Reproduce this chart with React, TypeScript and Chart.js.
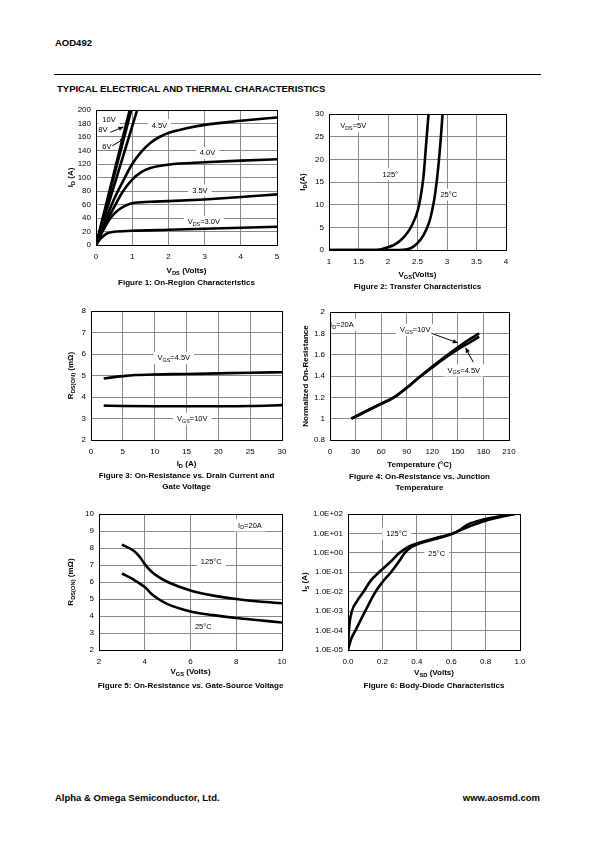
import React, { useEffect, useRef } from 'react';
import { Chart, registerables } from 'chart.js';
Chart.register(...registerables);

const FONT = '"Liberation Sans", Arial, Helvetica, sans-serif';
const GRID = '#888888';

// ---------- Figure 1: On-Region Characteristics ----------
const f1X30 = [0, 0.1, 0.2, 0.3, 0.5, 1, 2, 3, 4, 5];
const f1I30 = [0, 8, 13, 17, 19.5, 21, 22.5, 24, 25.5, 27];
const f1X35 = [0, 0.2, 0.4, 0.6, 0.8, 1, 1.5, 2, 3, 4, 5];
const f1I35 = [0, 22, 40, 51, 58, 62, 64, 65, 67.5, 71, 75];
const f1X40 = [0, 0.25, 0.5, 0.75, 1, 1.25, 1.5, 2, 3, 4, 5];
const f1I40 = [0, 30, 56, 80, 97, 108, 114, 119, 122.5, 125, 127];
const f1X45 = [0, 0.5, 0.75, 1, 1.25, 1.5, 1.75, 2, 2.5, 3, 4, 5];
const f1I45 = [0, 68, 95, 120, 138, 151, 160, 166, 173, 178, 184, 189];
const f1XLin = [0, 1.2];
const f1I6 = [0, 211];
const f1I8 = [0, 246];
const f1I10 = [0, 258];

// ---------- Figure 2: Transfer Characteristics ----------
const f2X125 = [1, 1.8, 1.9, 2.0, 2.1, 2.2, 2.3, 2.4, 2.5, 2.55, 2.6, 2.65, 2.7];
const f2I125 = [0, 0, 0.2, 0.6, 1.1, 2, 3.3, 5.3, 8.5, 11.5, 16, 24, 32];
const f2X25 = [1, 2.2, 2.3, 2.4, 2.5, 2.6, 2.7, 2.75, 2.8, 2.85, 2.9, 2.93];
const f2I25 = [0, 0, 0.1, 0.5, 1.5, 3.2, 6.2, 8.8, 12.5, 18, 25.5, 31];

// ---------- Figure 3: On-Resistance vs Drain Current ----------
const f3X45 = [2, 3, 5, 7, 10, 15, 20, 25, 30];
const f3R45 = [4.86, 4.9, 4.97, 5.02, 5.05, 5.07, 5.1, 5.13, 5.15];
const f3X10 = [2, 5, 10, 15, 20, 25, 30];
const f3R10 = [3.6, 3.58, 3.57, 3.57, 3.57, 3.58, 3.62];

// ---------- Figure 4: On-Resistance vs Junction Temperature ----------
const f4T = [25, 40, 60, 75, 90, 105, 120, 135, 150, 165, 175];
const f4N10 = [1.0, 1.06, 1.14, 1.2, 1.29, 1.39, 1.49, 1.58, 1.67, 1.75, 1.8];
const f4N45 = [1.0, 1.06, 1.14, 1.2, 1.29, 1.39, 1.48, 1.57, 1.65, 1.72, 1.77];

// ---------- Figure 5: On-Resistance vs Gate-Source Voltage ----------
const f5X125 = [3, 3.5, 3.8, 4, 4.3, 4.6, 5, 6, 7, 8, 9, 10];
const f5R125 = [8.2, 7.85, 7.45, 7.05, 6.6, 6.3, 6.0, 5.5, 5.2, 5.0, 4.85, 4.75];
const f5X25 = [3, 3.5, 4, 4.3, 4.6, 5, 6, 7, 8, 9, 10];
const f5R25 = [6.5, 6.15, 5.7, 5.3, 5.0, 4.7, 4.27, 4.05, 3.88, 3.75, 3.62];

// ---------- Figure 6: Body-Diode Characteristics ----------
const f6X125 = [0, 0.005, 0.023, 0.05, 0.09, 0.13, 0.18, 0.24, 0.3, 0.35, 0.4, 0.5, 0.6, 0.7, 0.8, 0.9, 0.97];
const f6I125 = [1e-5, 1e-4, 1e-3, 3e-3, 1e-2, 3.5e-2, 1e-1, 3e-1, 1.0, 2.0, 3.0, 5.5, 9.5, 22, 45, 75, 100];
const f6X25 = [0, 0.02, 0.043, 0.1, 0.16, 0.21, 0.25, 0.3, 0.33, 0.37, 0.4, 0.5, 0.6, 0.65, 0.7, 0.8, 0.9, 0.97];
const f6I25 = [1e-5, 4e-5, 1e-4, 1e-3, 1e-2, 4e-2, 1e-1, 4e-1, 1.0, 2.0, 2.7, 5, 9, 15, 30, 55, 82, 100];
const f6YTickValues = [1e-5, 1e-4, 1e-3, 1e-2, 1e-1, 1e0, 1e1, 1e2];
const f6YTickLabels = ['1.0E-05', '1.0E-04', '1.0E-03', '1.0E-02', '1.0E-01', '1.0E+00', '1.0E+01', '1.0E+02'];

interface Lbl { x: number; y: number; text: string; bg?: boolean }
interface Arrow { x1: number; y1: number; x2: number; y2: number; head?: boolean }
interface Series { x: number[]; y: number[] }
interface Spec {
  plot: [number, number, number, number];
  xMin: number; xMax: number; xStep: number; xFmt?: (v: number) => string;
  yMin: number; yMax: number; yStep?: number; yLog?: boolean; yFmt?: (v: number) => string;
  yTickValues?: number[]; yTickLabels?: string[];
  series: Series[];
  labels: Lbl[];
  arrows: Arrow[];
  xTitle: string; xTitleY: number;
  yTitle: string; yTitleX: number;
  caption: string[]; captionY: number[];
  lw?: number;
}

function parseRich(s: string) {
  const out: { t: string; sub: boolean }[] = [];
  const re = /_\{([^}]*)\}/g;
  let last = 0;
  let m: RegExpExecArray | null;
  while ((m = re.exec(s))) {
    if (m.index > last) out.push({ t: s.slice(last, m.index), sub: false });
    out.push({ t: m[1], sub: true });
    last = re.lastIndex;
  }
  if (last < s.length) out.push({ t: s.slice(last), sub: false });
  return out;
}

function drawRich(ctx: CanvasRenderingContext2D, text: string, x: number, y: number, size: number,
  bold: boolean, rotate: boolean, bg: boolean) {
  const parts = parseRich(text);
  const w = bold ? 'bold ' : '';
  const subSize = size * 0.72;
  let total = 0;
  const widths = parts.map(p => {
    ctx.font = `${w}${p.sub ? subSize : size}px ${FONT}`;
    const m = ctx.measureText(p.t).width;
    total += m;
    return m;
  });
  ctx.save();
  ctx.translate(x, y);
  if (rotate) ctx.rotate(-Math.PI / 2);
  let sx = -total / 2;
  if (bg) {
    ctx.fillStyle = '#fff';
    ctx.fillRect(sx - 4, -size * 0.75, total + 8, size * 1.6);
  }
  ctx.fillStyle = '#000';
  ctx.textBaseline = 'alphabetic';
  ctx.textAlign = 'left';
  const base = size * 0.36;
  parts.forEach((p, i) => {
    ctx.font = `${w}${p.sub ? subSize : size}px ${FONT}`;
    ctx.fillText(p.t, sx, p.sub ? base + size * 0.22 : base);
    sx += widths[i];
  });
  ctx.restore();
}

const PL = 60, PT = 15, PR = 45, PB = 62;

function ChartBox({ spec }: { spec: Spec }) {
  const ref = useRef<HTMLCanvasElement>(null);
  const [l, t, r, b] = spec.plot;
  const cl = l - PL, ct = t - PT;
  const W = r - l + PL + PR, H = b - t + PT + PB;

  useEffect(() => {
    const overlay = {
      id: 'overlay',
      beforeDatasetsDraw(chart: any) {
        const ctx = chart.ctx as CanvasRenderingContext2D;
        const xs = chart.scales.x, ys = chart.scales.y;
        for (const lb of spec.labels) {
          drawRich(ctx, lb.text, xs.getPixelForValue(lb.x), ys.getPixelForValue(lb.y), 7.5, false, false, lb.bg !== false);
        }
      },
      afterDatasetsDraw(chart: any) {
        const ctx = chart.ctx as CanvasRenderingContext2D;
        const xs = chart.scales.x, ys = chart.scales.y;
        const ca = chart.chartArea;
        ctx.save();
        ctx.strokeStyle = '#000';
        ctx.lineWidth = 1;
        ctx.strokeRect(Math.round(ca.left) + 0.5, Math.round(ca.top) + 0.5,
          Math.round(ca.right - ca.left), Math.round(ca.bottom - ca.top));
        for (const a of spec.arrows) {
          const x1 = xs.getPixelForValue(a.x1), y1 = ys.getPixelForValue(a.y1);
          const x2 = xs.getPixelForValue(a.x2), y2 = ys.getPixelForValue(a.y2);
          ctx.beginPath();
          ctx.moveTo(x1, y1);
          ctx.lineTo(x2, y2);
          ctx.lineWidth = 1;
          ctx.stroke();
          if (a.head) {
            const ang = Math.atan2(y2 - y1, x2 - x1);
            const L = 5, Wd = 2.2;
            ctx.beginPath();
            ctx.moveTo(x2, y2);
            ctx.lineTo(x2 - L * Math.cos(ang) + Wd * Math.sin(ang), y2 - L * Math.sin(ang) - Wd * Math.cos(ang));
            ctx.lineTo(x2 - L * Math.cos(ang) - Wd * Math.sin(ang), y2 - L * Math.sin(ang) + Wd * Math.cos(ang));
            ctx.closePath();
            ctx.fillStyle = '#000';
            ctx.fill();
          }
        }
        ctx.restore();
      },
      afterDraw(chart: any) {
        const ctx = chart.ctx as CanvasRenderingContext2D;
        const cx = (l + r) / 2 - cl;
        drawRich(ctx, spec.xTitle, cx, spec.xTitleY - ct, 8, true, false, false);
        drawRich(ctx, spec.yTitle, spec.yTitleX - cl, (t + b) / 2 - ct, 8, true, true, false);
        spec.caption.forEach((c, i) => drawRich(ctx, c, cx, spec.captionY[i] - ct, 8, true, false, false));
      },
    };

    const tickFont = { family: FONT, size: 8 };
    const yScale: any = spec.yLog
      ? {
          type: 'logarithmic', min: spec.yMin, max: spec.yMax,
          afterBuildTicks: (s: any) => { s.ticks = (spec.yTickValues || []).map(v => ({ value: v })); },
          ticks: {
            font: tickFont, color: '#000', padding: 5, autoSkip: false,
            callback: (_v: any, i: number) => (spec.yTickLabels || [])[i],
          },
        }
      : {
          type: 'linear', min: spec.yMin, max: spec.yMax,
          ticks: {
            stepSize: spec.yStep, font: tickFont, color: '#000', padding: 5, autoSkip: false,
            callback: spec.yFmt ? ((v: any) => spec.yFmt!(Number(v))) : undefined,
          },
        };
    yScale.grid = { color: GRID, lineWidth: 1, drawTicks: false };
    yScale.border = { display: false };
    yScale.afterFit = (s: any) => { s.width = PL; };

    const chart = new Chart(ref.current!, {
      type: 'scatter',
      data: {
        datasets: spec.series.map(s => ({
          data: s.x.map((x, i) => ({ x, y: s.y[i] })),
          borderColor: '#000',
          backgroundColor: '#000',
          borderWidth: spec.lw ?? 2.6,
          pointRadius: 0,
          showLine: true,
          fill: false,
          cubicInterpolationMode: 'monotone' as const,
        })),
      },
      options: {
        animation: false,
        responsive: false,
        devicePixelRatio: 1,
        events: [],
        layout: { padding: { left: 0, top: PT, right: PR, bottom: 0 } },
        plugins: { legend: { display: false }, tooltip: { enabled: false }, title: { display: false } },
        scales: {
          x: {
            type: 'linear', min: spec.xMin, max: spec.xMax,
            ticks: {
              stepSize: spec.xStep, font: tickFont, color: '#000', padding: 7, maxRotation: 0, autoSkip: false,
              callback: spec.xFmt ? ((v: any) => spec.xFmt!(Number(v))) : undefined,
            },
            grid: { color: GRID, lineWidth: 1, drawTicks: false },
            border: { display: false },
            afterFit: (s: any) => { s.height = PB; },
          },
          y: yScale,
        },
      } as any,
      plugins: [overlay],
    });
    return () => chart.destroy();
  }, []);

  return (
    <canvas ref={ref} width={W} height={H}
      style={{ position: 'absolute', left: cl, top: ct, width: W, height: H }} />
  );
}

const specs: Spec[] = [
  {
    plot: [96, 110, 277, 245],
    xMin: 0, xMax: 5, xStep: 1, yMin: 0, yMax: 200, yStep: 20,
    series: [
      { x: f1X30, y: f1I30 }, { x: f1X35, y: f1I35 }, { x: f1X40, y: f1I40 }, { x: f1X45, y: f1I45 },
      { x: f1XLin, y: f1I6 }, { x: f1XLin, y: f1I8 }, { x: f1XLin, y: f1I10 },
    ],
    labels: [
      { x: 0.36, y: 186, text: '10V' },
      { x: 0.19, y: 171, text: '8V', bg: false },
      { x: 0.3, y: 146, text: '6V', bg: false },
      { x: 1.75, y: 178, text: '4.5V' },
      { x: 3.08, y: 137, text: '4.0V' },
      { x: 2.87, y: 81.5, text: '3.5V' },
      { x: 2.98, y: 34.5, text: 'V_{DS}=3.0V' },
    ],
    arrows: [
      { x1: 0.4, y1: 167, x2: 0.76, y2: 175, head: true },
      { x1: 0.45, y1: 147, x2: 0.8, y2: 158, head: true },
    ],
    xTitle: 'V_{DS} (Volts)', xTitleY: 270,
    yTitle: 'I_{D} (A)', yTitleX: 70,
    caption: ['Figure 1: On-Region Characteristics'], captionY: [282],
  },
  {
    plot: [329, 114, 506, 250],
    xMin: 1, xMax: 4, xStep: 0.5, yMin: 0, yMax: 30, yStep: 5,
    series: [{ x: f2X125, y: f2I125 }, { x: f2X25, y: f2I25 }],
    labels: [
      { x: 1.41, y: 27.4, text: 'V_{DS}=5V' },
      { x: 2.04, y: 16.8, text: '125°' },
      { x: 3.03, y: 12.3, text: '25°C' },
    ],
    arrows: [],
    xTitle: 'V_{GS}(Volts)', xTitleY: 274,
    yTitle: 'I_{D}(A)', yTitleX: 302,
    caption: ['Figure 2: Transfer Characteristics'], captionY: [286],
  },
  {
    plot: [91, 311, 282, 440],
    xMin: 0, xMax: 30, xStep: 5, yMin: 2, yMax: 8, yStep: 1,
    series: [{ x: f3X45, y: f3R45 }, { x: f3X10, y: f3R10 }],
    labels: [
      { x: 13.0, y: 5.83, text: 'V_{GS}=4.5V' },
      { x: 15.9, y: 3.01, text: 'V_{GS}=10V' },
    ],
    arrows: [],
    xTitle: 'I_{D} (A)', xTitleY: 463,
    yTitle: 'R_{DS(ON)} (mΩ)', yTitleX: 70,
    caption: ['Figure 3: On-Resistance vs. Drain Current and', 'Gate Voltage'], captionY: [475, 486],
  },
  {
    plot: [330, 312, 509, 440],
    xMin: 0, xMax: 210, xStep: 30, yMin: 0.8, yMax: 2, yStep: 0.2,
    yFmt: (v: number) => String(Number(v.toFixed(1))),
    series: [{ x: f4T, y: f4N10 }, { x: f4T, y: f4N45 }],
    labels: [
      { x: 14, y: 1.885, text: 'I_{D}=20A' },
      { x: 100, y: 1.835, text: 'V_{GS}=10V' },
      { x: 157, y: 1.455, text: 'V_{GS}=4.5V' },
    ],
    arrows: [
      { x1: 119, y1: 1.8, x2: 150, y2: 1.71, head: true },
      { x1: 168, y1: 1.53, x2: 159, y2: 1.665, head: true },
    ],
    xTitle: 'Temperature (°C)', xTitleY: 464,
    yTitle: 'Normalized On-Resistance', yTitleX: 305,
    caption: ['Figure 4: On-Resistance vs. Junction', 'Temperature'], captionY: [476, 487],
  },
  {
    plot: [99, 514, 282, 650],
    xMin: 2, xMax: 10, xStep: 2, yMin: 2, yMax: 10, yStep: 1,
    series: [{ x: f5X125, y: f5R125 }, { x: f5X25, y: f5R25 }],
    labels: [
      { x: 8.6, y: 9.35, text: 'I_{D}=20A' },
      { x: 6.91, y: 7.2, text: '125°C' },
      { x: 6.56, y: 3.37, text: '25°C' },
    ],
    arrows: [],
    xTitle: 'V_{GS} (Volts)', xTitleY: 671,
    yTitle: 'R_{DS(ON)} (mΩ)', yTitleX: 70,
    caption: ['Figure 5: On-Resistance vs. Gate-Source Voltage'], captionY: [685],
  },
  {
    plot: [348, 514, 520, 650],
    xMin: 0, xMax: 1, xStep: 0.2, xFmt: (v: number) => v.toFixed(1),
    yMin: 1e-5, yMax: 1e2, yLog: true, yTickValues: f6YTickValues, yTickLabels: f6YTickLabels,
    series: [{ x: f6X125, y: f6I125 }, { x: f6X25, y: f6I25 }],
    labels: [
      { x: 0.283, y: 10, text: '125°C' },
      { x: 0.516, y: 1.0, text: '25°C' },
    ],
    arrows: [],
    xTitle: 'V_{SD} (Volts)', xTitleY: 672,
    yTitle: 'I_{S} (A)', yTitleX: 304,
    caption: ['Figure 6: Body-Diode Characteristics'], captionY: [685],
  },
];

export default function App() {
  const txt = (s: React.CSSProperties): React.CSSProperties => ({
    position: 'absolute', fontFamily: FONT, fontWeight: 'bold', color: '#000', whiteSpace: 'nowrap', ...s,
  });
  return (
    <div style={{ position: 'absolute', left: 0, top: 0, width: 595, height: 842, background: '#fff', overflow: 'hidden' }}>
      <div style={txt({ left: 55, top: 37, fontSize: 9.5, lineHeight: '12px' })}>AOD492</div>
      <div style={{ position: 'absolute', left: 54, top: 74, width: 487, height: 1, background: '#000' }} />
      <div style={txt({ left: 57, top: 83, fontSize: 9.5, lineHeight: '12px' })}>TYPICAL ELECTRICAL AND THERMAL CHARACTERISTICS</div>
      {specs.map((s, i) => <ChartBox key={i} spec={s} />)}
      <div style={txt({ left: 55, top: 792, fontSize: 9.5, lineHeight: '12px' })}>Alpha &amp; Omega Semiconductor, Ltd.</div>
      <div style={txt({ right: 55, top: 792, fontSize: 9.5, lineHeight: '12px' })}>www.aosmd.com</div>
    </div>
  );
}
